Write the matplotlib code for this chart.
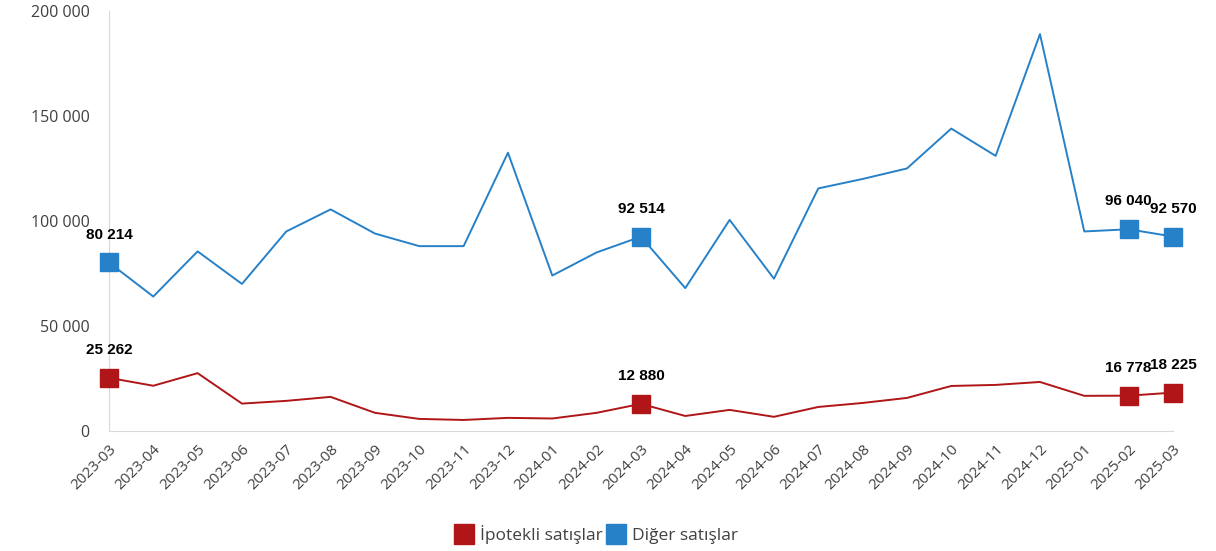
import matplotlib
matplotlib.use("Agg")
import matplotlib.pyplot as plt
from matplotlib.lines import Line2D
from matplotlib.ticker import FuncFormatter

months = ["2023-03", "2023-04", "2023-05", "2023-06", "2023-07", "2023-08", "2023-09",
          "2023-10", "2023-11", "2023-12", "2024-01", "2024-02", "2024-03", "2024-04",
          "2024-05", "2024-06", "2024-07", "2024-08", "2024-09", "2024-10", "2024-11",
          "2024-12", "2025-01", "2025-02", "2025-03"]

ipotekli = [25262, 21500, 27500, 13000, 14300, 16200, 8600, 5700, 5200, 6200, 5900,
            8600, 12880, 7100, 10000, 6700, 11400, 13300, 15700, 21400, 21900, 23300,
            16700, 16778, 18225]

diger = [80214, 64000, 85500, 70000, 95000, 105500, 94000, 88000, 88000, 132500, 74000,
         85000, 92514, 68000, 100500, 72500, 115500, 120000, 125000, 144000, 131000,
         189000, 95000, 96040, 92570]

highlight = [0, 12, 23, 24]
series_names = ["İpotekli satışlar", "Diğer satışlar"]
red = "#B01517"
blue = "#2681C8"

def fmt(v):
    return f"{int(v):,}".replace(",", " ")

fig = plt.figure(figsize=(12.16, 5.51), dpi=100)
ax = fig.add_axes([0.0896, 0.218, 0.875, 0.762])

x = list(range(len(months)))
for vals, col in [(diger, blue), (ipotekli, red)]:
    ax.plot(x, vals, color=col, lw=1.4, zorder=2, clip_on=False)
    hx = [x[i] for i in highlight]
    hy = [vals[i] for i in highlight]
    ax.plot(hx, hy, ls="none", marker="s", ms=13.5, color=col, zorder=3, clip_on=False)
    for i in highlight:
        ax.annotate(fmt(vals[i]), (x[i], vals[i]), xytext=(0, 15), textcoords="offset points",
                    ha="center", va="bottom", fontsize=11, fontweight="bold",
                    family="Liberation Sans", color="black")

ax.set_xlim(0, len(months) - 1)
ax.set_ylim(0, 200000)
ax.set_yticks([0, 50000, 100000, 150000, 200000])
ax.yaxis.set_major_formatter(FuncFormatter(lambda v, p: fmt(v)))
ax.set_xticks(x)
ax.set_xticklabels(months, rotation=45, ha="right", rotation_mode="anchor")

for s in ["top", "right"]:
    ax.spines[s].set_visible(False)
ax.spines["left"].set_color("#D9D9D9")
ax.spines["bottom"].set_color("#D9D9D9")
ax.tick_params(axis="both", length=0, colors="#404040")
ax.tick_params(axis="y", labelsize=11.5, pad=14)
ax.tick_params(axis="x", labelsize=11, pad=8)
for lab in ax.get_yticklabels() + ax.get_xticklabels():
    lab.set_family("Open Sans")

handles = [Line2D([], [], ls="none", marker="s", ms=15, color=red),
           Line2D([], [], ls="none", marker="s", ms=15, color=blue)]
leg = fig.legend(handles, series_names, loc="lower center", bbox_to_anchor=(0.49, -0.015),
                 ncol=2, frameon=False, prop={"family": "Open Sans", "size": 12.5},
                 handletextpad=0.3, columnspacing=0.2, handlelength=1.2)
for t in leg.get_texts():
    t.set_color("#404040")

fig.savefig("out.png", dpi=100)
